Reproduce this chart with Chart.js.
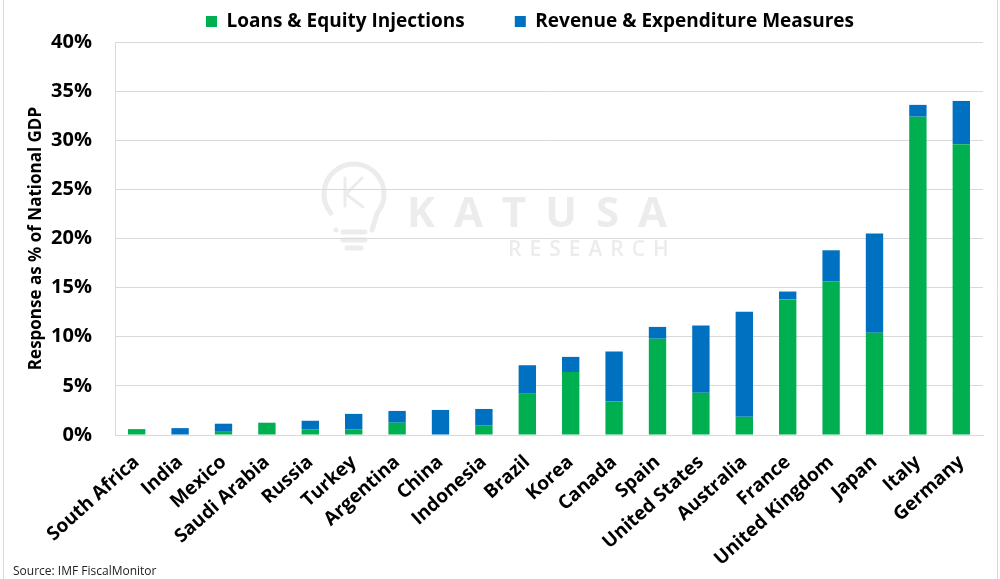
<!DOCTYPE html>
<html>
<head>
<meta charset="utf-8">
<script src="https://cdn.jsdelivr.net/npm/chart.js@4"></script>
<style>
  html, body { margin: 0; padding: 0; background: #fff; }
  #wrap { width: 1000px; height: 579px; }
</style>
</head>
<body>
<div id="wrap"><canvas id="gdp"></canvas></div>
<script>
const countries = ['South Africa', 'India', 'Mexico', 'Saudi Arabia', 'Russia', 'Turkey', 'Argentina', 'China', 'Indonesia', 'Brazil',
    'Korea', 'Canada', 'Spain', 'United States', 'Australia', 'France', 'United Kingdom', 'Japan', 'Italy', 'Germany'];
const loansEquity = [0.6, 0, 0.4, 1.25, 0.55, 0.55, 1.25, 0, 0.95, 4.2, 6.4, 3.4, 9.8, 4.3, 1.85, 13.8, 15.65, 10.4, 32.4, 29.6];
const revenueExpenditure = [0, 0.7, 0.75, 0, 0.9, 1.6, 1.2, 2.55, 1.7, 2.9, 1.55, 5.1, 1.2, 6.85, 10.7, 0.8, 3.15, 10.1, 1.2, 4.4];
const yMax = 40;
const yStep = 5;

const FONT = '"Open Sans", "Liberation Sans", sans-serif';
const GRID = '#d9d9d9';
const MARK = '#ececec';

// watermark, source note and frame
const extras = {
    id: 'extras',
    beforeInit(chart) {
        const fit = chart.legend.fit;
        chart.legend.fit = function () {
            fit.call(this);
            this.height = 42;
        };
    },
    afterLayout(chart) {
        chart.legend.left = 60;
        chart.legend.right = 1000;
        chart.legend.top = -38;
    },
    beforeDraw(chart) {
        const ctx = chart.ctx;
        ctx.save();
        // faint bulb logo
        ctx.strokeStyle = MARK;
        ctx.lineWidth = 5;
        ctx.lineCap = 'round';
        ctx.beginPath();
        ctx.arc(354, 194, 30, Math.PI * 0.78, Math.PI * 2.22);
        ctx.lineTo(372, 230);
        ctx.moveTo(336, 230);
        ctx.lineTo(336, 230);
        ctx.stroke();
        ctx.beginPath();
        ctx.moveTo(343, 232); ctx.lineTo(365, 232);
        ctx.moveTo(343, 240); ctx.lineTo(365, 240);
        ctx.moveTo(347, 248); ctx.lineTo(361, 248);
        ctx.stroke();
        ctx.lineWidth = 3;
        ctx.beginPath();
        ctx.moveTo(345, 178); ctx.lineTo(345, 206);
        ctx.moveTo(362, 178); ctx.lineTo(346, 194); ctx.lineTo(363, 207);
        ctx.stroke();

        ctx.fillStyle = MARK;
        ctx.textBaseline = 'middle';
        ctx.textAlign = 'left';
        ctx.font = 'bold 42px ' + FONT;
        ctx.letterSpacing = '19px';
        ctx.fillText('KATUSA', 407, 215);
        ctx.font = '600 21px ' + FONT;
        ctx.letterSpacing = '8px';
        ctx.fillText('RESEARCH', 508, 250);
        ctx.restore();
    },
    afterDraw(chart) {
        const ctx = chart.ctx;
        ctx.save();
        ctx.fillStyle = '#222';
        ctx.font = '12px ' + FONT;
        ctx.textBaseline = 'middle';
        ctx.fillText('Source: IMF FiscalMonitor', 13, 572);
        ctx.strokeStyle = GRID;
        ctx.lineWidth = 1;
        ctx.beginPath();
        ctx.moveTo(3.5, 0); ctx.lineTo(3.5, 579);
        ctx.moveTo(997.5, 0); ctx.lineTo(997.5, 579);
        ctx.stroke();
        ctx.restore();
    }
};

const gdpChart = new Chart(document.getElementById('gdp').getContext('2d'), {
    type: 'bar',
    data: {
        labels: countries,
        datasets: [
            {
                label: 'Loans & Equity Injections',
                data: loansEquity,
                backgroundColor: '#00b050',
                borderWidth: 0,
            },
            {
                label: 'Revenue & Expenditure Measures',
                data: revenueExpenditure,
                backgroundColor: '#0070c0',
                borderWidth: 0,
            },
        ],
    },
    options: {
        responsive: true,
        maintainAspectRatio: false,
        animation: false,
        layout: { padding: { left: 0, right: 17, top: 0, bottom: 0 } },
        datasets: { bar: { categoryPercentage: 1, barPercentage: 0.4 } },
        plugins: {
            tooltip: { enabled: false },
            legend: {
                position: 'top',
                labels: {
                    boxWidth: 11,
                    boxHeight: 11,
                    padding: 50,
                    color: '#000',
                    font: { family: FONT, size: 19, weight: 'bold' },
                },
            },
        },
        scales: {
            x: {
                stacked: true,
                grid: { display: false },
                border: { color: GRID },
                ticks: {
                    color: '#000',
                    minRotation: 42,
                    maxRotation: 42,
                    autoSkip: false,
                    padding: 8,
                    font: { family: FONT, size: 19, weight: 'bold' },
                },
                afterFit(scale) { scale.height = 144; },
            },
            y: {
                stacked: true,
                min: 0,
                max: yMax,
                grid: { color: GRID, drawTicks: false },
                border: { color: GRID },
                ticks: {
                    stepSize: yStep,
                    padding: 23,
                    color: '#000',
                    font: { family: FONT, size: 20, weight: 'bold' },
                    callback: (v) => v + '%',
                },
                title: {
                    display: true,
                    text: 'Response as % of National GDP',
                    color: '#000',
                    padding: { top: 26, bottom: 0 },
                    font: { family: FONT, size: 17, weight: 'bold', lineHeight: 1.2 },
                },
                afterFit(scale) { scale.width = 115; },
            },
        },
    },
    plugins: [extras],
});
</script>
</body>
</html>
